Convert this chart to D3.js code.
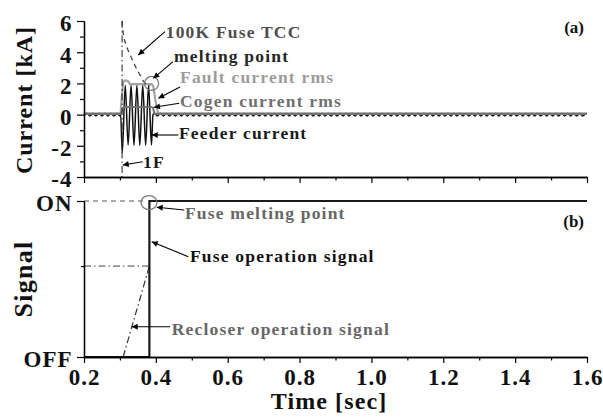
<!DOCTYPE html>
<html>
<head>
<meta charset="utf-8">
<script src="https://cdn.jsdelivr.net/npm/d3@7"></script>
<style>
  html, body { margin: 0; padding: 0; background: #fff; }
  svg { display: block; font-family: "Liberation Serif", "Times New Roman", serif; font-weight: bold; }
</style>
</head>
<body>
<svg id="chart" width="603" height="417"></svg>
<script>
// ---- axes ----
const timeTicks = [0.2, 0.4, 0.6, 0.8, 1.0, 1.2, 1.4, 1.6];
const timeTickLabels = ["0.2", "0.4", "0.6", "0.8", "1.0", "1.2", "1.4", "1.6"];
const timeMinorTicks = [0.3, 0.5, 0.7, 0.9, 1.1, 1.3, 1.5];
const currentTicks = [-4, -2, 0, 2, 4, 6];
const currentTickLabels = ["-4", "-2", "0", "2", "4", "6"];
const currentMinorTicks = [-3, -1, 1, 3, 5];
const signalTicks = [0, 1];
const signalTickLabels = ["OFF", "ON"];

// ---- (a) currents, kA ----
// feeder current through the fault: half-cycle peaks
const feederFaultTime = [0.302, 0.3065, 0.3148, 0.3228, 0.3310, 0.3391, 0.3472, 0.3553, 0.3635, 0.3716, 0.3797, 0.3878, 0.392];
const feederFaultCurrent = [0.0, -2.45, 1.88, -1.95, 1.9, -1.97, 1.9, -1.97, 1.9, -1.97, 1.88, -1.95, 0.0];
// steady load current before / after the fault
const loadPeak = 0.09;      // kA
const systemFreq = 60;      // Hz
const faultStart = 0.302, faultEnd = 0.392;

const faultRmsTime = [0.2, 0.302, 0.3055, 0.309, 0.314, 0.3226, 0.328, 0.389, 0.393, 0.398, 0.403, 0.407, 1.6];
const faultRmsCurrent = [0.06, 0.06, 1.2, 2.05, 2.2, 2.15, 1.95, 1.95, 1.8, 1.0, 0.35, 0.06, 0.06];

const cogenRmsTime = [0.2, 0.303, 0.308, 0.312, 0.388, 0.392, 0.396, 1.6];
const cogenRmsCurrent = [0.06, 0.06, 0.42, 0.48, 0.48, 0.45, 0.06, 0.06];

// 100K fuse time-current characteristic
const tccTime = [0.306, 0.3095, 0.316, 0.325, 0.335, 0.345, 0.355, 0.365, 0.375, 0.384];
const tccCurrent = [6.0, 5.15, 4.55, 4.0, 3.5, 3.0, 2.58, 2.15, 1.95, 1.83];

const faultInception = 0.306;            // 1F
const meltPoint = { t: 0.388, i: 2.0 };

// ---- (b) signals ----
const fuseSignalTime = [0.2, 0.382, 0.382, 1.6];
const fuseSignalValue = [0, 0, 1, 1];
const recloserTime = [0.309, 0.382];
const recloserValue = [0, 0.583];
const recloserLevel = 0.583;
const meltSignalPoint = { t: 0.381, s: 0.99 };

// ---- annotations (data coordinates) ----
const notesTop = [
  { text: "100K Fuse TCC",     color: "#4d4d4d", at: [0.4274, 4.89],  tail: [0.4254, 5.314], tip: [0.3511, 3.821] },
  { text: "melting point",     color: "#262626", at: [0.4505, 3.372], tail: [0.4477, 3.391], tip: [0.3929, 2.327] },
  { text: "Fault current rms", color: "#9c9c9c", at: [0.4672, 2.006], tail: [0.4672, 1.769], tip: [0.4068, 1.045] },
  { text: "Cogen current rms", color: "#707070", at: [0.4672, 0.506], tail: [0.4652, 0.724], tip: [0.3948, 0.468] },
  { text: "Feeder current",    color: "#1a1a1a", at: [0.4644, -1.564], tail: [0.4625, -1.308], tip: [0.3884, -1.308] },
  { text: "1F",                color: "#1a1a1a", at: [0.3642, -3.423], tail: [0.3634, -3.019], tip: [0.3077, -3.231] }
];
const notesBottom = [
  { text: "Fuse melting point",        color: "#666", at: [0.4811, 0.885], tail: [0.4792, 0.942], tip: [0.4023, 0.960] },
  { text: "Fuse operation signal",     color: "#111", at: [0.4950, 0.609], tail: [0.4903, 0.643], tip: [0.3884, 0.739] },
  { text: "Recloser operation signal", color: "#666", at: [0.4441, 0.141], tail: [0.4394, 0.194], tip: [0.3328, 0.194] }
];

// ---- scales ----
const svg = d3.select("#chart");
const x = d3.scaleLinear().domain([0.2, 1.6]).range([84, 587]);
const yTop = d3.scaleLinear().domain([-4, 6]).range([177, 21]);
const yBot = d3.scaleLinear().domain([0, 1]).range([357, 201]);

// arrowhead
svg.append("defs").append("marker")
  .attr("id", "head").attr("viewBox", "0 0 10 10")
  .attr("refX", 10).attr("refY", 5)
  .attr("markerWidth", 7).attr("markerHeight", 6)
  .attr("markerUnits", "userSpaceOnUse")
  .attr("orient", "auto")
  .append("path").attr("d", "M0,0 L10,5 L0,10 Z").attr("fill", "#000");

function path(ts, vs, yScale, curve) {
  return d3.line().x((d, i) => x(ts[i])).y((d, i) => yScale(vs[i])).curve(curve || d3.curveLinear)(ts);
}

// ---- feeder current series ----
const feederT = [], feederI = [];
const half = 1 / (2 * systemFreq);
let k = 0;
for (let t = 0.2; t < faultStart - 1e-9; t += half, k++) { feederT.push(t); feederI.push(k % 2 ? loadPeak : -loadPeak); }
feederFaultTime.forEach((t, i) => { feederT.push(t); feederI.push(feederFaultCurrent[i]); });
k = 1;
for (let t = faultEnd + half / 2; t <= 1.6 + 1e-9; t += half, k++) { feederT.push(t); feederI.push(k % 2 ? loadPeak : -loadPeak); }

const gTop = svg.append("g");
gTop.append("path").attr("d", path(feederT, feederI, yTop, d3.curveMonotoneX))
  .attr("fill", "none").attr("stroke", "#111").attr("stroke-width", 1.5);
gTop.append("path").attr("d", path(faultRmsTime, faultRmsCurrent, yTop))
  .attr("fill", "none").attr("stroke", "#a3a3a3").attr("stroke-width", 2.2).attr("stroke-linejoin", "round");
gTop.append("path").attr("d", path(cogenRmsTime, cogenRmsCurrent, yTop))
  .attr("fill", "none").attr("stroke", "#707070").attr("stroke-width", 2).attr("stroke-linejoin", "round");
gTop.append("path").attr("d", path(tccTime, tccCurrent, yTop, d3.curveMonotoneX))
  .attr("fill", "none").attr("stroke", "#444").attr("stroke-width", 1.3).attr("stroke-dasharray", "5,4");
gTop.append("line")
  .attr("x1", x(faultInception)).attr("x2", x(faultInception))
  .attr("y1", yTop(6)).attr("y2", yTop(-4))
  .attr("stroke", "#333").attr("stroke-width", 1.1).attr("stroke-dasharray", "7,3,1.5,3");
gTop.append("ellipse")
  .attr("cx", x(meltPoint.t)).attr("cy", yTop(meltPoint.i)).attr("rx", 7).attr("ry", 7)
  .attr("fill", "none").attr("stroke", "#777").attr("stroke-width", 1.3);

// ---- signals ----
const gBot = svg.append("g");
gBot.append("line")
  .attr("x1", x(0.2)).attr("x2", x(0.372)).attr("y1", yBot(1)).attr("y2", yBot(1))
  .attr("stroke", "#555").attr("stroke-width", 1).attr("stroke-dasharray", "5,4");
gBot.append("line")
  .attr("x1", x(0.2)).attr("x2", x(recloserTime[1])).attr("y1", yBot(recloserLevel)).attr("y2", yBot(recloserLevel))
  .attr("stroke", "#444").attr("stroke-width", 1).attr("stroke-dasharray", "7,3,1.5,3");
gBot.append("path").attr("d", path(recloserTime, recloserValue, yBot))
  .attr("fill", "none").attr("stroke", "#333").attr("stroke-width", 1.2).attr("stroke-dasharray", "7,3,1.5,3");
gBot.append("path").attr("d", path(fuseSignalTime, fuseSignalValue, yBot))
  .attr("fill", "none").attr("stroke", "#1a1a1a").attr("stroke-width", 2.2);
gBot.append("ellipse")
  .attr("cx", x(meltSignalPoint.t)).attr("cy", yBot(meltSignalPoint.s)).attr("rx", 8).attr("ry", 7)
  .attr("fill", "none").attr("stroke", "#777").attr("stroke-width", 1.3);

// ---- axes ----
function styleAxis(g) {
  g.select(".domain").attr("stroke", "#000").attr("stroke-width", 1.3);
  g.selectAll(".tick line").attr("stroke", "#000").attr("stroke-width", 1.2);
  g.selectAll("text").attr("fill", "#111").style("font-size", "23px")
    .style("font-family", "'Liberation Serif', serif").style("font-weight", "bold").style("letter-spacing", "1px");
}
function timeAxes(y0, withLabels) {
  svg.append("g").attr("transform", `translate(0,${y0})`)
    .call(d3.axisBottom(x).tickValues(timeMinorTicks).tickSize(3.5).tickSizeOuter(0).tickFormat(""))
    .call(styleAxis);
  svg.append("g").attr("transform", `translate(0,${y0})`)
    .call(d3.axisBottom(x).tickValues(timeTicks).tickSize(6).tickSizeOuter(0).tickPadding(5.5)
      .tickFormat((d, i) => withLabels ? timeTickLabels[i] : ""))
    .call(styleAxis);
}
timeAxes(yTop.range()[0], false);
timeAxes(yBot.range()[0], true);

svg.append("g").attr("transform", `translate(${x.range()[0]},0)`)
  .call(d3.axisLeft(yTop).tickValues(currentMinorTicks).tickSize(4).tickSizeOuter(0).tickFormat(""))
  .call(styleAxis);
svg.append("g").attr("transform", `translate(${x.range()[0]},0)`)
  .call(d3.axisLeft(yTop).tickValues(currentTicks).tickSize(7).tickSizeOuter(0).tickPadding(4.5)
    .tickFormat((d, i) => currentTickLabels[i]))
  .call(styleAxis)
  .selectAll("text").attr("dy", "0.43em");

svg.append("g").attr("transform", `translate(${x.range()[0]},0)`)
  .call(d3.axisLeft(yBot).tickValues([recloserLevel]).tickSize(3).tickSizeOuter(0).tickFormat(""))
  .call(styleAxis);
svg.append("g").attr("transform", `translate(${x.range()[0]},0)`)
  .call(d3.axisLeft(yBot).tickValues(signalTicks).tickSize(7).tickSizeOuter(0).tickPadding(4.5)
    .tickFormat((d, i) => signalTickLabels[i]))
  .call(styleAxis)
  .selectAll("text").attr("dy", "0.43em");

// ---- axis titles ----
svg.append("text").attr("transform", `translate(31.5,${(yTop(6) + yTop(-4)) / 2 + 1}) rotate(-90)`)
  .attr("text-anchor", "middle").style("font-size", "24px").style("letter-spacing", "1px")
  .attr("fill", "#111").text("Current [kA]");
svg.append("text").attr("transform", `translate(32,${(yBot(0) + yBot(1)) / 2}) rotate(-90)`)
  .attr("text-anchor", "middle").style("font-size", "26px").style("letter-spacing", "1.3px")
  .attr("fill", "#111").text("Signal");
svg.append("text").attr("x", 329).attr("y", 409)
  .attr("text-anchor", "middle").style("font-size", "24px").style("letter-spacing", "1.1px")
  .attr("fill", "#111").text("Time [sec]");

// panel tags
svg.append("text").attr("x", x(1.6) - 3).attr("y", 33).attr("text-anchor", "end")
  .style("font-size", "17px").attr("fill", "#111").text("(a)");
svg.append("text").attr("x", x(1.6) - 3).attr("y", 227).attr("text-anchor", "end")
  .style("font-size", "17px").attr("fill", "#111").text("(b)");

// ---- annotations ----
function annotate(list, yScale) {
  const g = svg.append("g");
  list.forEach(n => {
    g.append("line")
      .attr("x1", x(n.tail[0])).attr("y1", yScale(n.tail[1]))
      .attr("x2", x(n.tip[0])).attr("y2", yScale(n.tip[1]))
      .attr("stroke", "#000").attr("stroke-width", 1.1).attr("marker-end", "url(#head)");
    g.append("text").attr("x", x(n.at[0])).attr("y", yScale(n.at[1]))
      .style("font-size", "17.5px").style("letter-spacing", "1.2px")
      .attr("fill", n.color).text(n.text);
  });
}
annotate(notesTop, yTop);
annotate(notesBottom, yBot);
</script>
</body>
</html>
